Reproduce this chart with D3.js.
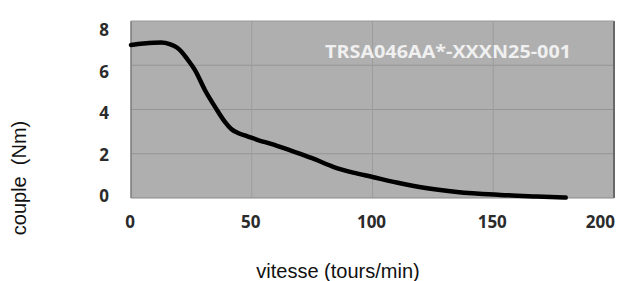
<!DOCTYPE html>
<html><head><meta charset="utf-8">
<script src="https://cdn.jsdelivr.net/npm/d3@7"></script>
<style>
body{margin:0;background:#fff;}
svg{display:block;}
</style></head>
<body>
<svg id="c" width="622" height="281"></svg>
<script>
const speeds = [0, 5, 12.5, 16, 19, 21, 23.5, 26.5, 30.6, 35.6, 38.9, 41.5, 44.3, 48, 52.6, 58, 66, 75, 84, 92, 100, 110, 122, 135, 153, 168, 180];
const torque = [6.92, 6.98, 7.03, 6.96, 6.8, 6.6, 6.25, 5.78, 4.88, 3.98, 3.44, 3.12, 2.94, 2.8, 2.62, 2.45, 2.15, 1.8, 1.4, 1.15, 0.95, 0.7, 0.45, 0.27, 0.14, 0.07, 0.02];
const xTicks = [0, 50, 100, 150, 200];
const yTicks = [0, 2, 4, 6, 8];
const modelLabel = "TRSA046AA*-XXXN25-001";
const xTitle = "vitesse (tours/min)";
const yTitle = "couple  (Nm)";

const svg = d3.select("#c");
const L = 131, R = 614, T = 21, B = 198;
const x = d3.scaleLinear().domain([0, 200]).range([L, R]);
const y = d3.scaleLinear().domain([0, 8]).range([B, T]);
// tick labels in the source image sit on a slightly tighter spacing than the grid
const yLab = d3.scaleLinear().domain([0, 8]).range([196, 30]);

svg.append("rect").attr("x", L).attr("y", T).attr("width", R - L).attr("height", B - T)
  .attr("fill", "#afafaf");

// grid
svg.append("g").selectAll("line").data(yTicks.slice(1, -1)).join("line")
  .attr("x1", L).attr("x2", R).attr("y1", d => y(d)).attr("y2", d => y(d))
  .attr("stroke", "#959595").attr("stroke-width", 1);
svg.append("g").selectAll("line").data(xTicks.slice(1, -1)).join("line")
  .attr("y1", T).attr("y2", B).attr("x1", d => x(d)).attr("x2", d => x(d))
  .attr("stroke", "#9c9c9c").attr("stroke-width", 1);

// border
svg.append("line").attr("x1", L).attr("x2", L).attr("y1", T).attr("y2", B).attr("stroke", "#7a7a7a").attr("stroke-width", 1.5);
svg.append("line").attr("x1", R).attr("x2", R).attr("y1", T).attr("y2", B).attr("stroke", "#686868").attr("stroke-width", 2);
svg.append("line").attr("x1", L).attr("x2", R).attr("y1", B).attr("y2", B).attr("stroke", "#8a8a8a").attr("stroke-width", 1);
svg.append("line").attr("x1", L).attr("x2", R).attr("y1", T).attr("y2", T).attr("stroke", "#9a9a9a").attr("stroke-width", 1);

// model label
svg.append("text").attr("x", 448).attr("y", 58).attr("text-anchor", "middle")
  .attr("font-family", "Open Sans, sans-serif").attr("font-weight", "bold").attr("font-size", 17)
  .attr("fill", "#f0f0f0").attr("textLength", 246).attr("lengthAdjust", "spacingAndGlyphs")
  .text(modelLabel);

// curve
const pts = speeds.map((s, i) => [s, torque[i]]);
svg.append("path").datum(pts)
  .attr("d", d3.line().x(d => x(d[0])).y(d => y(d[1])).curve(d3.curveMonotoneX))
  .attr("fill", "none").attr("stroke", "#000").attr("stroke-width", 4.5).attr("stroke-linecap", "round");

// tick labels
svg.append("g").selectAll("text").data(xTicks).join("text")
  .attr("x", (d, i) => i === xTicks.length - 1 ? R + 1 : x(d) - 1).attr("y", 228)
  .attr("text-anchor", (d, i) => i === xTicks.length - 1 ? "end" : "middle")
  .attr("font-family", "Open Sans, sans-serif").attr("font-weight", "bold").attr("font-size", 17)
  .attr("fill", "#2b2b2b").text(d => d);
svg.append("g").selectAll("text").data(yTicks).join("text")
  .attr("x", 109).attr("y", d => yLab(d) + 6)
  .attr("text-anchor", "end")
  .attr("font-family", "Open Sans, sans-serif").attr("font-weight", "bold").attr("font-size", 17)
  .attr("fill", "#2b2b2b").text(d => d);

// axis titles
svg.append("text").attr("x", 338).attr("y", 278).attr("text-anchor", "middle")
  .attr("font-family", "Liberation Sans, Arial, sans-serif").attr("font-size", 20).attr("fill", "#111")
  .text(xTitle);
svg.append("text").attr("transform", "translate(26,178) rotate(-90)").attr("text-anchor", "middle")
  .attr("font-family", "Liberation Sans, Arial, sans-serif").attr("font-size", 20).attr("fill", "#111")
  .style("white-space", "pre")
  .text(yTitle);
</script>
</body></html>
